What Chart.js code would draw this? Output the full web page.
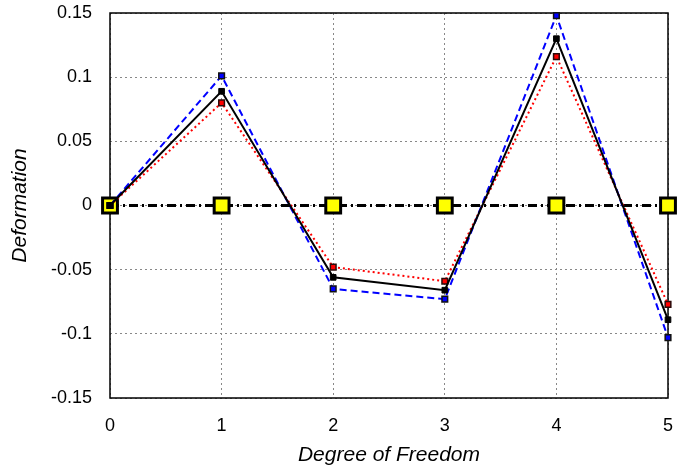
<!DOCTYPE html>
<html>
<head>
<meta charset="utf-8">
<script src="https://cdn.jsdelivr.net/npm/chart.js@4/dist/chart.umd.min.js"></script>
<style>
	html, body { margin: 0; padding: 0; background: #fff; }
	#wrap { width: 677px; height: 468px; }
</style>
</head>
<body>
<div id="wrap"><canvas id="dofChart" width="677" height="468"></canvas></div>
<script>
const degrees = [0, 1, 2, 3, 4, 5];
const solidValues = [0, 0.089, -0.056, -0.066, 0.130, -0.089];
const dashedValues = [0, 0.101, -0.065, -0.073, 0.148, -0.103];
const dottedValues = [0, 0.080, -0.048, -0.059, 0.116, -0.077];
const zeroValues = [0, 0, 0, 0, 0, 0];
const yTickLabels = ['-0.15', '-0.1', '-0.05', '0', '0.05', '0.1', '0.15'];

function pairs(values) {
	return degrees.map(function (d, i) { return { x: d, y: values[i] }; });
}

// solid frame round the plot area
const framePlugin = {
	id: 'frame',
	beforeDatasetsDraw: function (chart) {
		const a = chart.chartArea;
		const ctx = chart.ctx;
		ctx.save();
		ctx.strokeStyle = '#000';
		ctx.lineWidth = 1.5;
		ctx.setLineDash([]);
		ctx.strokeRect(a.left, a.top, a.right - a.left, a.bottom - a.top);
		ctx.restore();
	}
};

Chart.defaults.font.family = '"Liberation Sans", Arial, sans-serif';
Chart.defaults.color = '#000';

window.onload = function () {
	const canvas = document.getElementById('dofChart');
	const data = {
		datasets: [
			{
				label: 'solid',
				data: pairs(solidValues),
				borderColor: '#000',
				backgroundColor: '#000',
				borderWidth: 2,
				pointStyle: 'rect',
				pointRadius: 4,
				pointBorderColor: '#000',
				pointBackgroundColor: '#000',
				pointBorderWidth: 1,
				clip: false
			},
			{
				label: 'dashed',
				data: pairs(dashedValues),
				borderColor: '#0000ff',
				borderWidth: 2,
				borderDash: [7, 4],
				pointStyle: 'rect',
				pointRadius: 4,
				pointBorderColor: '#111',
				pointBackgroundColor: '#0000ff',
				pointBorderWidth: 1.5,
				clip: false
			},
			{
				label: 'dotted',
				data: pairs(dottedValues),
				borderColor: '#ff0000',
				borderWidth: 2,
				borderDash: [2, 3],
				pointStyle: 'rect',
				pointRadius: 4,
				pointBorderColor: '#2a0a0a',
				pointBackgroundColor: '#ff0000',
				pointBorderWidth: 1.5,
				clip: false
			},
			{
				label: 'zero',
				data: pairs(zeroValues),
				borderColor: '#000',
				borderWidth: 3,
				borderDash: [9, 4, 2, 4],
				pointStyle: 'rect',
				pointRadius: 10.5,
				pointBorderColor: '#000',
				pointBackgroundColor: '#ffff00',
				pointBorderWidth: 3,
				clip: false
			}
		]
	};
	const options = {
		responsive: false,
		animation: false,
		events: [],
		layout: { autoPadding: false, padding: { left: 0, top: 13, right: 9, bottom: 0 } },
		plugins: { legend: { display: false }, tooltip: { enabled: false } },
		scales: {
			x: {
				type: 'linear',
				min: 0,
				max: 5,
				afterFit: function (scale) {
					scale.height = 70;
					scale.paddingLeft = 0;
					scale.paddingRight = 0;
				},
				ticks: { stepSize: 1, padding: 17, font: { size: 18 } },
				grid: { color: '#888', lineWidth: 1, drawTicks: false },
				border: { display: false, dash: [2, 3] },
				title: {
					display: true,
					text: 'Degree of Freedom',
					font: { size: 21, style: 'italic' },
					padding: { top: 0, bottom: 0 }
				}
			},
			y: {
				min: -0.15,
				max: 0.15,
				afterFit: function (scale) {
					scale.width = 110;
					scale.paddingTop = 0;
					scale.paddingBottom = 0;
				},
				afterBuildTicks: function (scale) {
					scale.ticks = yTickLabels.map(function (t) { return { value: parseFloat(t) }; });
				},
				ticks: {
					padding: 18,
					font: { size: 18 },
					callback: function (value) {
						const i = yTickLabels.findIndex(function (t) { return Math.abs(parseFloat(t) - value) < 1e-9; });
						return i >= 0 ? yTickLabels[i] : '';
					}
				},
				grid: { color: '#888', lineWidth: 1, drawTicks: false },
				border: { display: false, dash: [2, 3] },
				title: {
					display: true,
					text: 'Deformation',
					font: { size: 21, style: 'italic' },
					padding: { top: 8, bottom: 0 }
				}
			}
		}
	};
	new Chart(canvas, {
		type: 'line',
		data: data,
		options: options,
		plugins: [framePlugin]
	});
};
</script>
</body>
</html>
